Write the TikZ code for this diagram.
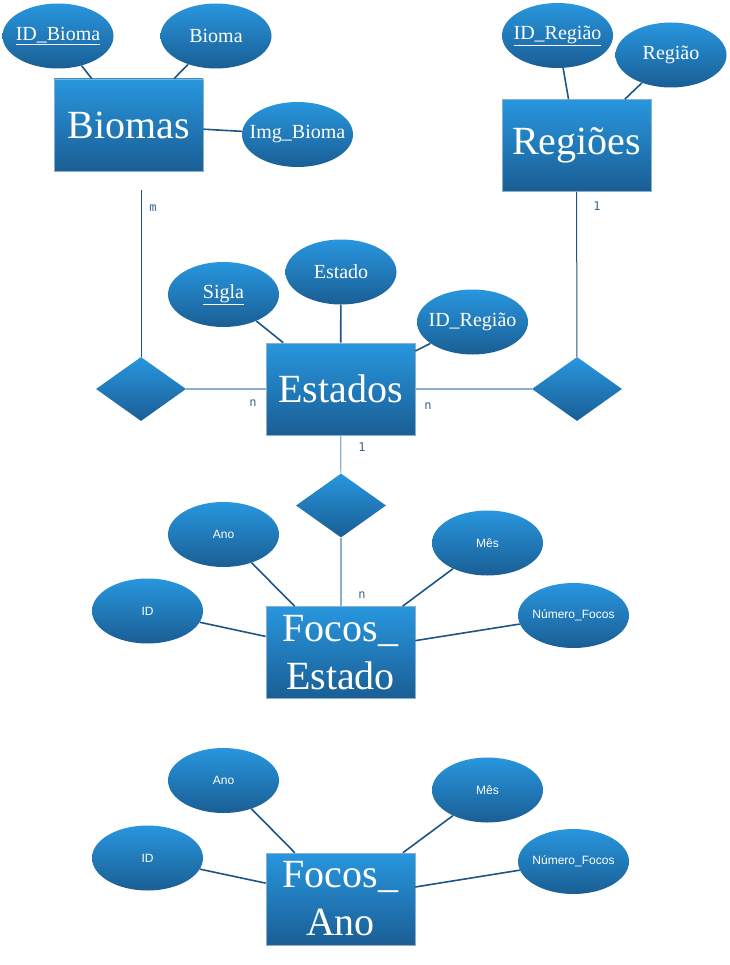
\documentclass[tikz,border=0pt]{standalone}
\usepackage{fontspec}
\setmainfont{Liberation Serif}
\setsansfont{Liberation Sans}
\setmonofont{DejaVu Sans Mono}
\usetikzlibrary{shapes.geometric}

\definecolor{erlight}{RGB}{40,150,222}
\definecolor{erdark}{RGB}{26,94,148}
\definecolor{erline}{RGB}{30,85,135}
\definecolor{erpale}{RGB}{140,175,205}
\definecolor{ercard}{RGB}{60,100,140}

% texto que nao alarga a elipse
\newcommand{\attrtext}[1]{\makebox[0pt]{#1}}

\begin{document}
\begin{tikzpicture}[x=1pt,y=-1pt,
        entity/.style={rectangle,top color=erlight,bottom color=erdark,draw=erpale,line width=0.6pt,
            minimum width=149pt,minimum height=92pt,inner sep=0pt,text=white,align=center,
            font=\fontsize{40}{48}\selectfont},
        attr/.style={ellipse,top color=erlight,bottom color=erdark,minimum width=111pt,minimum height=65pt,
            inner sep=0pt,text=white,font=\fontsize{20}{24}\selectfont},
        attrsf/.style={attr,font=\sffamily\fontsize{12}{14}\selectfont},
        rel/.style={diamond,top color=erlight,bottom color=erdark,minimum width=90pt,minimum height=64pt,inner sep=0pt},
        attrline/.style={draw=erline,line width=1.6pt},
        relline/.style={draw=erline,line width=1pt},
        paleline/.style={draw=erpale,line width=2pt},
        card/.style={text=ercard,font=\ttfamily\fontsize{12}{14}\selectfont,inner sep=0pt}]
    \fill[white] (0,0) rectangle (729,965);
    \useasboundingbox (0,0) rectangle (729,965);

    % Biomas
    \node[entity] (biomas) at (128.5,125) {Biomas};
    \node[attr] (idbioma) at (58,36) {\attrtext{\underline{ID\_Bioma}}};
    \node[attr] (bioma) at (216,36) {\attrtext{Bioma}};
    \node[attr] (imgbioma) at (297.5,134.5) {\attrtext{Img\_Bioma}};
    \draw[attrline] (idbioma) -- (biomas);
    \draw[attrline] (bioma) -- (biomas);
    \draw[attrline] (imgbioma) -- (biomas);

    % Regioes
    \node[entity] (regioes) at (576.5,145.5) {Regiões};
    \node[attr] (idregiao) at (557.5,35.5) {\attrtext{\underline{ID\_Região}}};
    \node[attr] (regiao) at (671,55) {\attrtext{Região}};
    \draw[attrline] (idregiao) -- (regioes);
    \draw[attrline] (regiao) -- (regioes);

    % Estados
    \node[entity] (estados) at (340.5,389) {Estados};
    \node[attr] (sigla) at (223.5,294.5) {\attrtext{\underline{Sigla}}};
    \node[attr] (estado) at (341,272) {\attrtext{Estado}};
    \node[attr] (idregiaoE) at (472.5,322) {\attrtext{ID\_Região}};
    \draw[attrline] (sigla) -- (estados);
    \draw[attrline] (estado) -- (estados);
    \draw[attrline] (idregiaoE) -- (estados);

    % Focos_Estado
    \node[entity] (focosE) at (340.5,652.5) {Focos\_\\Estado};
    \node[attrsf] (anoE) at (223.5,534.5) {\attrtext{Ano}};
    \node[attrsf] (idE) at (147.5,611) {\attrtext{ID}};
    \node[attrsf] (mesE) at (487.5,543) {\attrtext{Mês}};
    \node[attrsf] (nfE) at (573.5,615.5) {\attrtext{Número\_Focos}};
    \draw[attrline] (anoE) -- (focosE);
    \draw[attrline] (idE) -- (focosE);
    \draw[attrline] (mesE) -- (focosE);
    \draw[attrline] (nfE) -- (focosE);

    % relacionamentos
    \node[rel] (relBE) at (141,389) {};
    \node[rel] (relRE) at (577,389) {};
    \node[rel] (relEF) at (341,505.5) {};
    \coordinate (mtop) at (141,190);
    \draw[relline] (mtop) -- (relBE);
    \draw[relline] (regioes) -- (relRE);
    \draw[paleline] (relBE) -- (estados);
    \draw[paleline] (estados) -- (relRE);
    \draw[draw=erpale,line width=1.2pt] (estados) -- (relEF);
    \draw[draw=erpale,line width=1.2pt] (relEF) -- (focosE.north -| relEF);
    \node[card] (cm) at (153,208) {m};
    \node[card] (cnl) at (253,403) {n};
    \node[card] (c1r) at (597,206) {1};
    \node[card] (cnr) at (428,406) {n};
    \node[card] (c1e) at (362,447) {1};
    \node[card] (cnf) at (362,595) {n};

    % Focos_Ano
    \node[entity] (focosA) at (340.5,899) {Focos\_\\Ano};
    \node[attrsf] (anoA) at (223.5,780.5) {\attrtext{Ano}};
    \node[attrsf] (idA) at (147.5,858) {\attrtext{ID}};
    \node[attrsf] (mesA) at (487.5,790) {\attrtext{Mês}};
    \node[attrsf] (nfA) at (573.5,861.5) {\attrtext{Número\_Focos}};
    \draw[attrline] (anoA) -- (focosA);
    \draw[attrline] (idA) -- (focosA);
    \draw[attrline] (mesA) -- (focosA);
    \draw[attrline] (nfA) -- (focosA);
\end{tikzpicture}
\end{document}
